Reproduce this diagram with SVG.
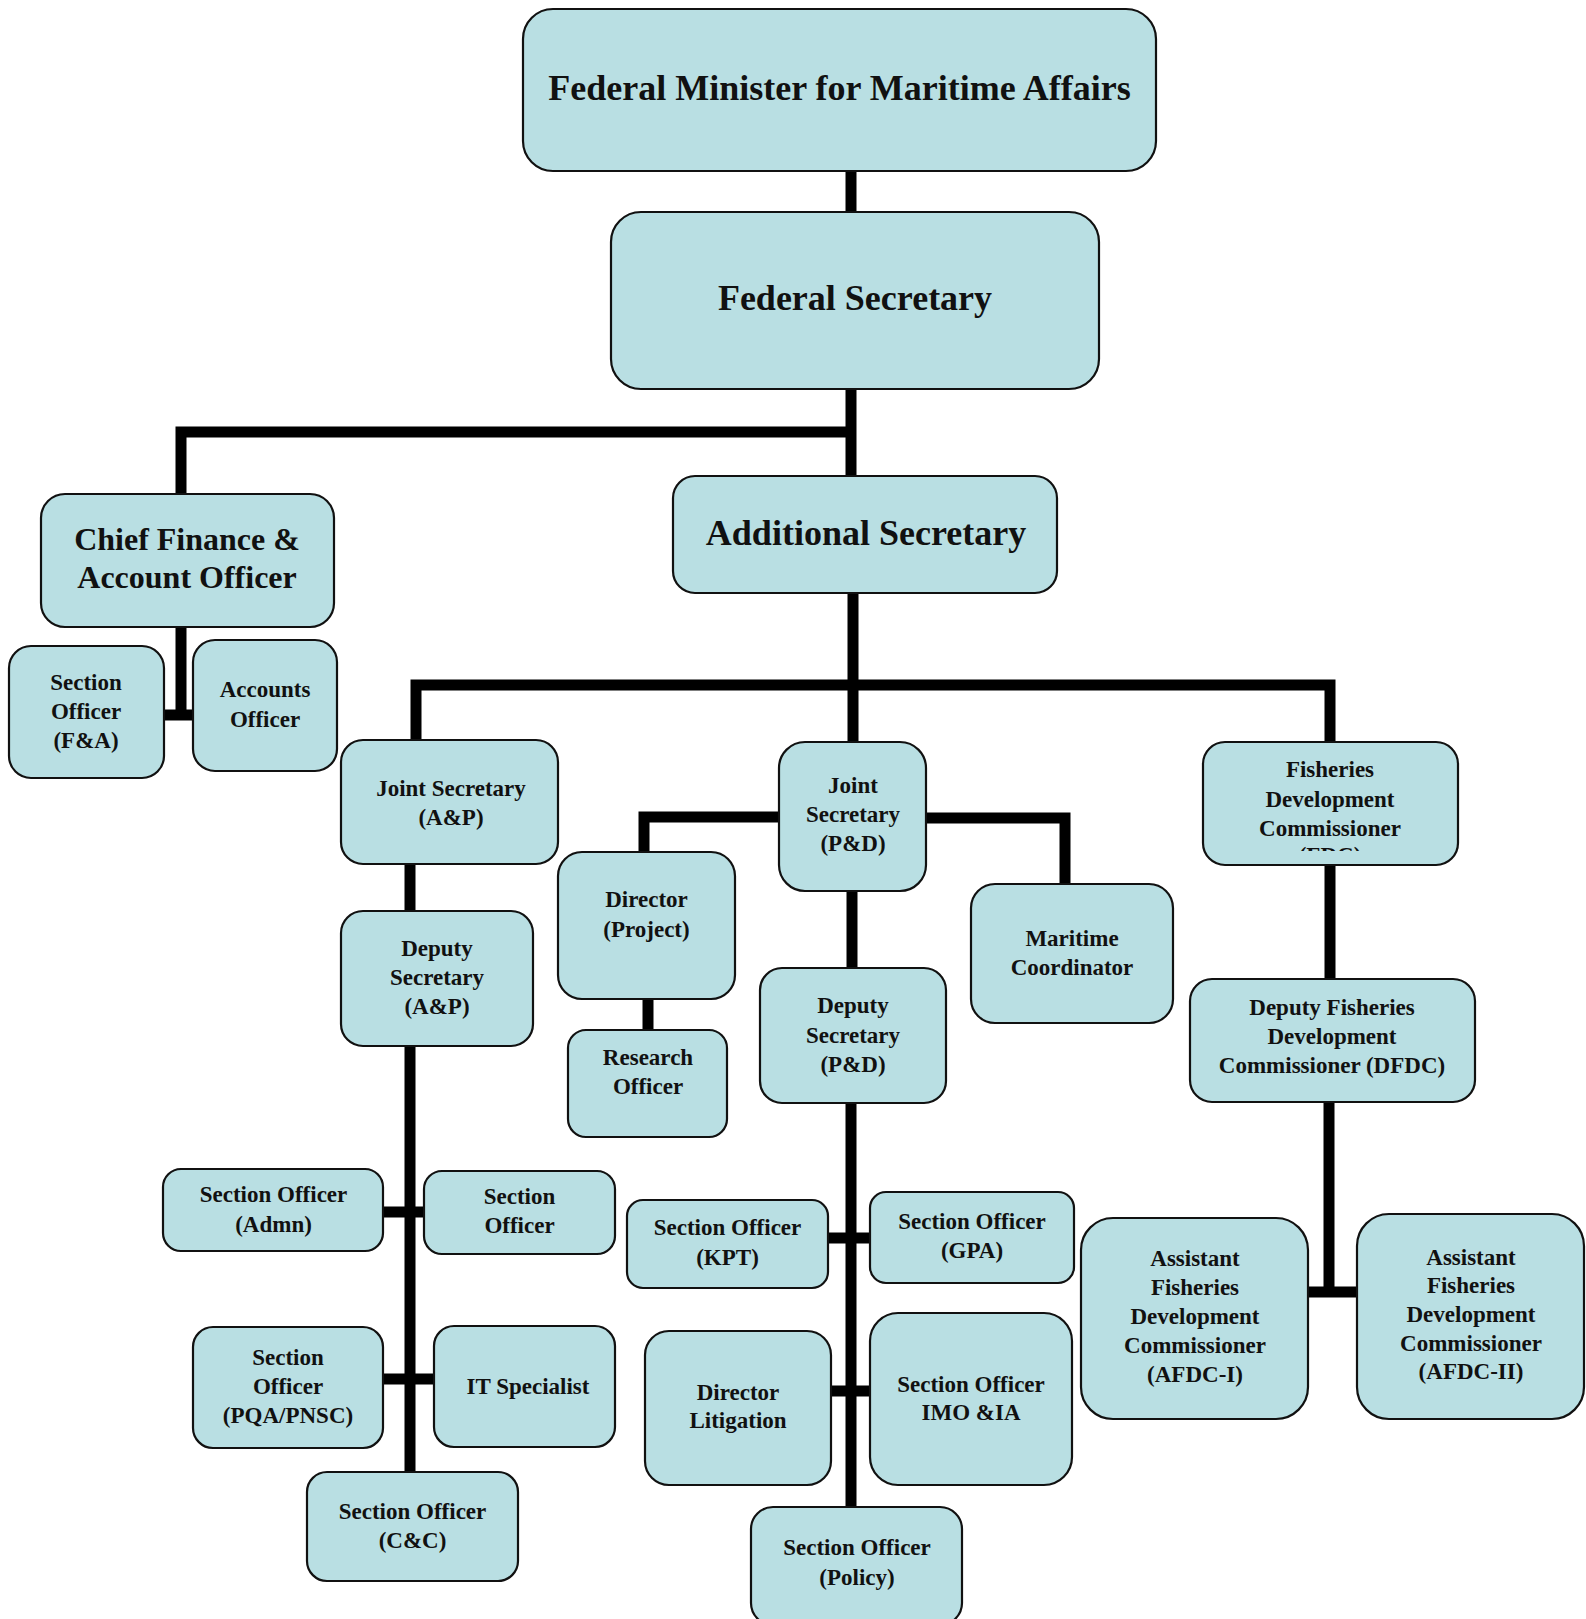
<svg xmlns="http://www.w3.org/2000/svg" width="1586" height="1619" viewBox="0 0 1586 1619">
<style>
.box{fill:#B9DFE3;stroke:#111;stroke-width:2.2}
.t{font-family:"Liberation Serif","Times New Roman",serif;font-weight:bold;fill:#111;text-anchor:middle}
.s{font-size:23px}
.m{font-size:32px}
.l{font-size:36px}
.c{fill:none;stroke:#000;stroke-width:11;stroke-linejoin:miter}
</style>
<defs>
<clipPath id="fdcclip"><rect x="1290" y="846" width="80" height="5"/></clipPath>
</defs>
<rect width="1586" height="1619" fill="#fff"/>
<g id="connectors" class="c">
<path d="M851,171 V212"/>
<path d="M851,389 V476"/>
<path d="M181,494 V432 H851"/>
<path d="M181,627 V720"/>
<path d="M164,715 H193"/>
<path d="M853,593 V742"/>
<path d="M416,740 V685 H1330 V742"/>
<path d="M410,864 V911"/>
<path d="M410,1046 V1472"/>
<path d="M383,1212 H424"/>
<path d="M383,1379 H434"/>
<path d="M779,817 H644 V852"/>
<path d="M926,818 H1065 V884"/>
<path d="M852,891 V968"/>
<path d="M648,999 V1030"/>
<path d="M851,1103 V1507"/>
<path d="M828,1238 H870"/>
<path d="M831,1391 H870"/>
<path d="M1330,864 V979"/>
<path d="M1329,1102 V1297"/>
<path d="M1308,1292 H1357"/>
</g>
<g id="minister"><rect class="box" x="523" y="9" width="633" height="162" rx="30"/><text class="t l" x="839.5" y="100">Federal Minister for Maritime Affairs</text></g>
<g id="fedsec"><rect class="box" x="611" y="212" width="488" height="177" rx="30"/><text class="t l" x="855" y="310">Federal Secretary</text></g>
<g id="chief"><rect class="box" x="41" y="494" width="293" height="133" rx="24"/><text class="t m" x="187" y="550">Chief Finance &amp;</text><text class="t m" x="187" y="588">Account Officer</text></g>
<g id="so_fa"><rect class="box" x="9" y="646" width="155" height="132" rx="22"/><text class="t s" x="86" y="690">Section</text><text class="t s" x="86" y="719">Officer</text><text class="t s" x="86" y="748">(F&amp;A)</text></g>
<g id="accounts"><rect class="box" x="193" y="640" width="144" height="131" rx="22"/><text class="t s" x="265" y="697">Accounts</text><text class="t s" x="265" y="727">Officer</text></g>
<g id="addsec"><rect class="box" x="673" y="476" width="384" height="117" rx="22"/><text class="t l" x="866" y="545">Additional Secretary</text></g>
<g id="js_ap"><rect class="box" x="341" y="740" width="217" height="124" rx="22"/><text class="t s" x="451" y="796">Joint Secretary</text><text class="t s" x="451" y="825">(A&amp;P)</text></g>
<g id="js_pd"><rect class="box" x="779" y="742" width="147" height="149" rx="26"/><text class="t s" x="853" y="793">Joint</text><text class="t s" x="853" y="822">Secretary</text><text class="t s" x="853" y="851">(P&amp;D)</text></g>
<g id="fdc"><rect class="box" x="1203" y="742" width="255" height="123" rx="22"/><text class="t s" x="1330" y="777">Fisheries</text><text class="t s" x="1330" y="807">Development</text><text class="t s" x="1330" y="836">Commissioner</text><text class="t s" x="1330" y="863" clip-path="url(#fdcclip)">(FDC)</text></g>
<g id="dir_proj"><rect class="box" x="558" y="852" width="177" height="147" rx="24"/><text class="t s" x="646.5" y="907">Director</text><text class="t s" x="646.5" y="937">(Project)</text></g>
<g id="research"><rect class="box" x="568" y="1030" width="159" height="107" rx="18"/><text class="t s" x="648" y="1065">Research</text><text class="t s" x="648" y="1094">Officer</text></g>
<g id="maritime"><rect class="box" x="971" y="884" width="202" height="139" rx="24"/><text class="t s" x="1072" y="946">Maritime</text><text class="t s" x="1072" y="975">Coordinator</text></g>
<g id="dep_pd"><rect class="box" x="760" y="968" width="186" height="135" rx="22"/><text class="t s" x="853" y="1013">Deputy</text><text class="t s" x="853" y="1043">Secretary</text><text class="t s" x="853" y="1072">(P&amp;D)</text></g>
<g id="dep_ap"><rect class="box" x="341" y="911" width="192" height="135" rx="22"/><text class="t s" x="437" y="956">Deputy</text><text class="t s" x="437" y="985">Secretary</text><text class="t s" x="437" y="1014">(A&amp;P)</text></g>
<g id="dfdc"><rect class="box" x="1190" y="979" width="285" height="123" rx="22"/><text class="t s" x="1332" y="1015">Deputy Fisheries</text><text class="t s" x="1332" y="1044">Development</text><text class="t s" x="1332" y="1073">Commissioner (DFDC)</text></g>
<g id="so_admn"><rect class="box" x="163" y="1169" width="220" height="82" rx="18"/><text class="t s" x="273.5" y="1202">Section Officer</text><text class="t s" x="273.5" y="1232">(Admn)</text></g>
<g id="so_right"><rect class="box" x="424" y="1171" width="191" height="83" rx="18"/><text class="t s" x="519.5" y="1204">Section</text><text class="t s" x="519.5" y="1233">Officer</text></g>
<g id="so_pqa"><rect class="box" x="193" y="1327" width="190" height="121" rx="20"/><text class="t s" x="288" y="1365">Section</text><text class="t s" x="288" y="1394">Officer</text><text class="t s" x="288" y="1423">(PQA/PNSC)</text></g>
<g id="it"><rect class="box" x="434" y="1326" width="181" height="121" rx="20"/><text class="t s" x="528" y="1394">IT Specialist</text></g>
<g id="so_cc"><rect class="box" x="307" y="1472" width="211" height="109" rx="20"/><text class="t s" x="412.5" y="1519">Section Officer</text><text class="t s" x="412.5" y="1548">(C&amp;C)</text></g>
<g id="so_kpt"><rect class="box" x="627" y="1200" width="201" height="88" rx="16"/><text class="t s" x="727.5" y="1235">Section Officer</text><text class="t s" x="727.5" y="1265">(KPT)</text></g>
<g id="so_gpa"><rect class="box" x="870" y="1192" width="204" height="91" rx="16"/><text class="t s" x="972" y="1229">Section Officer</text><text class="t s" x="972" y="1258">(GPA)</text></g>
<g id="dir_lit"><rect class="box" x="645" y="1331" width="186" height="154" rx="24"/><text class="t s" x="738" y="1400">Director</text><text class="t s" x="738" y="1428">Litigation</text></g>
<g id="so_imo"><rect class="box" x="870" y="1313" width="202" height="172" rx="28"/><text class="t s" x="971" y="1392">Section Officer</text><text class="t s" x="971" y="1420">IMO &amp;IA</text></g>
<g id="afdc1"><rect class="box" x="1081" y="1218" width="227" height="201" rx="32"/><text class="t s" x="1195" y="1266">Assistant</text><text class="t s" x="1195" y="1295">Fisheries</text><text class="t s" x="1195" y="1324">Development</text><text class="t s" x="1195" y="1353">Commissioner</text><text class="t s" x="1195" y="1382">(AFDC-I)</text></g>
<g id="afdc2"><rect class="box" x="1357" y="1214" width="227" height="205" rx="32"/><text class="t s" x="1471" y="1265">Assistant</text><text class="t s" x="1471" y="1293">Fisheries</text><text class="t s" x="1471" y="1322">Development</text><text class="t s" x="1471" y="1351">Commissioner</text><text class="t s" x="1471" y="1379">(AFDC-II)</text></g>
<g id="so_policy"><rect class="box" x="751" y="1507" width="211" height="118" rx="22"/><text class="t s" x="857" y="1555">Section Officer</text><text class="t s" x="857" y="1585">(Policy)</text></g>
</svg>
